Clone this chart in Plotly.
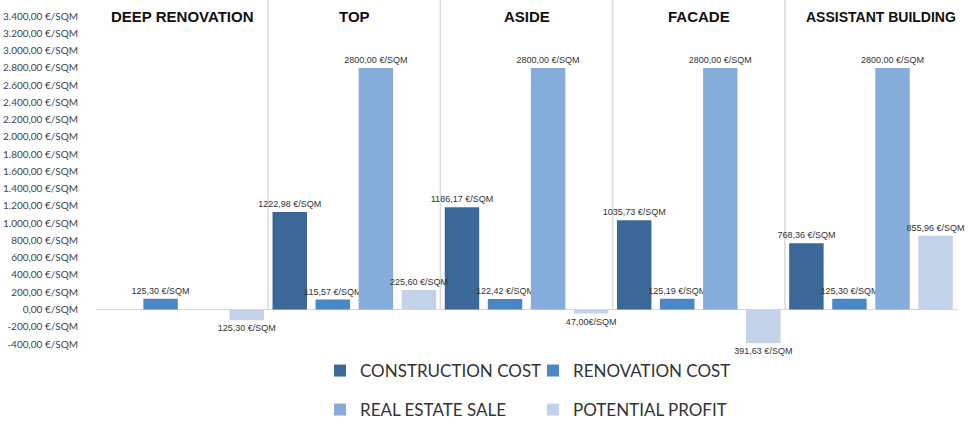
import plotly.graph_objects as go

categories = ["DEEP RENOVATION", "TOP", "ASIDE", "FACADE", "ASSISTANT BUILDING"]

construction = [None, 1130.0, 1186.17, 1035.73, 768.36]
construction_text = ["", "1222,98 €/SQM", "1186,17 €/SQM", "1035,73 €/SQM", "768,36 €/SQM"]

renovation = [125.30, 115.57, 122.42, 125.19, 125.30]
renovation_text = ["125,30 €/SQM", "115,57 €/SQM", "122,42 €/SQM", "125,19 €/SQM", "125,30 €/SQM"]

sale = [None, 2800.0, 2800.0, 2800.0, 2800.0]
sale_text = ["", "2800,00 €/SQM", "2800,00 €/SQM", "2800,00 €/SQM", "2800,00 €/SQM"]

profit = [-125.30, 225.60, -47.00, -391.63, 855.96]
profit_text = ["125,30 €/SQM", "225,60 €/SQM", "47,00€/SQM", "391,63 €/SQM", "855,96 €/SQM"]

tick_vals = [-400, -200, 0, 200, 400, 600, 800, 1000, 1200, 1400, 1600, 1800,
             2000, 2200, 2400, 2600, 2800, 3000, 3200, 3400]
tick_text = ["-400,00 €/SQM", "-200,00 €/SQM", "0,00 €/SQM", "200,00 €/SQM",
             "400,00 €/SQM", "600,00 €/SQM", "800,00 €/SQM", "1.000,00 €/SQM",
             "1.200,00 €/SQM", "1.400,00 €/SQM", "1.600,00 €/SQM", "1.800,00 €/SQM",
             "2.000,00 €/SQM", "2.200,00 €/SQM", "2.400,00 €/SQM", "2.600,00 €/SQM",
             "2.800,00 €/SQM", "3.000,00 €/SQM", "3.200,00 €/SQM", "3.400,00 €/SQM"]

series = [
    ("CONSTRUCTION COST", construction, construction_text, "#3b6896", "legend"),
    ("RENOVATION COST", renovation, renovation_text, "#4b86c6", "legend"),
    ("REAL ESTATE SALE", sale, sale_text, "#86acdc", "legend2"),
    ("POTENTIAL PROFIT", profit, profit_text, "#c3d2e8", "legend2"),
]

fig = go.Figure()
for name, vals, txt, col, lg in series:
    fig.add_trace(go.Bar(
        name=name, x=categories, y=vals, text=txt,
        textposition="outside", constraintext="none", cliponaxis=False,
        textfont=dict(family="Arial", size=9, color="#333333"),
        marker=dict(color=col, line=dict(width=0)),
        legend=lg, hoverinfo="skip",
    ))

shapes = []
for i in range(len(categories) - 1):
    shapes.append(dict(type="line", xref="x", yref="y", x0=i + 0.5, x1=i + 0.5,
                       y0=0, y1=3588, line=dict(color="#dadada", width=1.5),
                       layer="below"))

annotations = []
for i, c in enumerate(categories):
    last = i == len(categories) - 1
    annotations.append(dict(text="<b>%s</b>" % c, x=c, xref="x", y=0.951, yref="paper",
                            showarrow=False, yanchor="middle", xshift=10 if last else 0,
                            font=dict(family="Arial", size=14 if last else 15,
                                      color="#111111")))

legend_common = dict(orientation="h", xref="container", yref="container",
                     xanchor="left", yanchor="middle",
                     font=dict(family="Lato", size=17, color="#333333"),
                     entrywidth=168, entrywidthmode="pixels",
                     bgcolor="rgba(0,0,0,0)", itemwidth=30)

fig.update_layout(
    width=969, height=421,
    margin=dict(l=96, r=11, t=0, b=77),
    paper_bgcolor="white", plot_bgcolor="white",
    barmode="group", bargap=0.0, bargroupgap=0.2,
    xaxis=dict(showticklabels=False, showgrid=False, zeroline=False, showline=False,
               ticks=""),
    yaxis=dict(range=[-400, 3588], tickvals=tick_vals, ticktext=tick_text,
               showgrid=False, zeroline=True, zerolinecolor="#d9d9d9", zerolinewidth=1,
               showline=False, ticks="", ticklabelstandoff=17,
               tickfont=dict(family="Lato", size=10, color="#444444")),
    shapes=shapes,
    annotations=annotations,
    legend=dict(x=320 / 969, y=1 - 371 / 421, **legend_common),
    legend2=dict(x=320 / 969, y=1 - 410 / 421, **legend_common),
    showlegend=True,
)

fig.write_html("out.html")
